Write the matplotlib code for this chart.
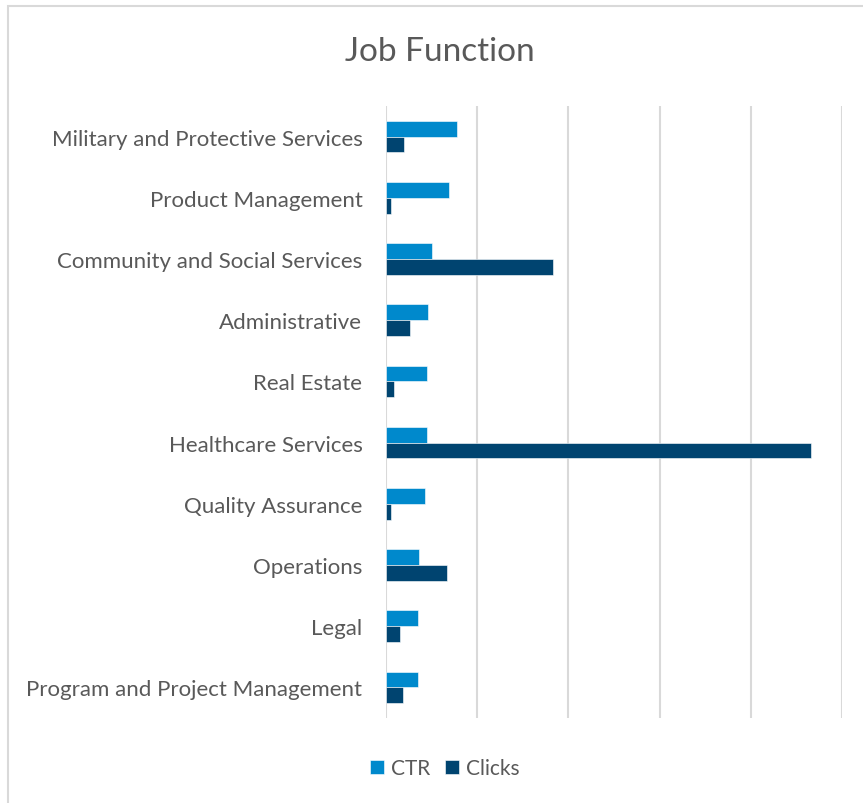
import matplotlib.pyplot as plt
import numpy as np
from matplotlib.patches import Rectangle

plt.rcParams['font.family'] = ['Lato', 'DejaVu Sans']

functions = [
    "Military and Protective Services",
    "Product Management",
    "Community and Social Services",
    "Administrative",
    "Real Estate",
    "Healthcare Services",
    "Quality Assurance",
    "Operations",
    "Legal",
    "Program and Project Management",
]
ctr = [78, 69, 50, 46, 45, 45, 43, 36, 35, 35]
clicks = [20, 5.5, 183, 26, 9, 466, 5.5, 67, 15, 19]

ctr_color = "#0089CC"
clicks_color = "#004470"
text_color = "#595959"
grid_color = "#D9D9D9"

fig = plt.figure(figsize=(8.63, 8.04), dpi=100)
ax = fig.add_axes([386 / 863, 1 - 719 / 804, 456 / 863, 612 / 804])

# chart frame
fig.patches.append(Rectangle((8 / 863, -0.05), 1.2, 1 - 7 / 804 + 0.05,
                             transform=fig.transFigure, fill=False,
                             edgecolor=grid_color, linewidth=1.5))

y = np.arange(len(functions))[::-1]
h = 0.258
ax.barh(y + h / 2, ctr, height=h, color=ctr_color, label="CTR",
        edgecolor="white", linewidth=0.4)
ax.barh(y - h / 2, clicks, height=h, color=clicks_color, label="Clicks",
        edgecolor="white", linewidth=0.4)

ax.set_xlim(0, 500)
ax.set_ylim(-0.5, len(functions) - 0.5)
ax.set_xticks(np.arange(0, 501, 100))
ax.set_xticklabels([])
ax.set_yticks(y)
ax.set_yticklabels(functions, fontsize=16, color=text_color)
ax.tick_params(axis='both', length=0)
ax.tick_params(axis='y', pad=17)
ax.xaxis.grid(True, color=grid_color, linewidth=1.5)
ax.set_axisbelow(True)
for s in ax.spines.values():
    s.set_visible(False)

fig.text(440 / 863, 1 - 52 / 804, "Job Function", ha='center', va='center',
         fontsize=24, color=text_color)

fig.legend(loc='center', bbox_to_anchor=(445 / 863, 1 - 769 / 804), ncol=2,
           frameon=False, fontsize=15, labelcolor=text_color,
           handlelength=0.65, handleheight=0.65, handletextpad=0.35,
           columnspacing=0.7)

fig.savefig("out.png", dpi=100)
